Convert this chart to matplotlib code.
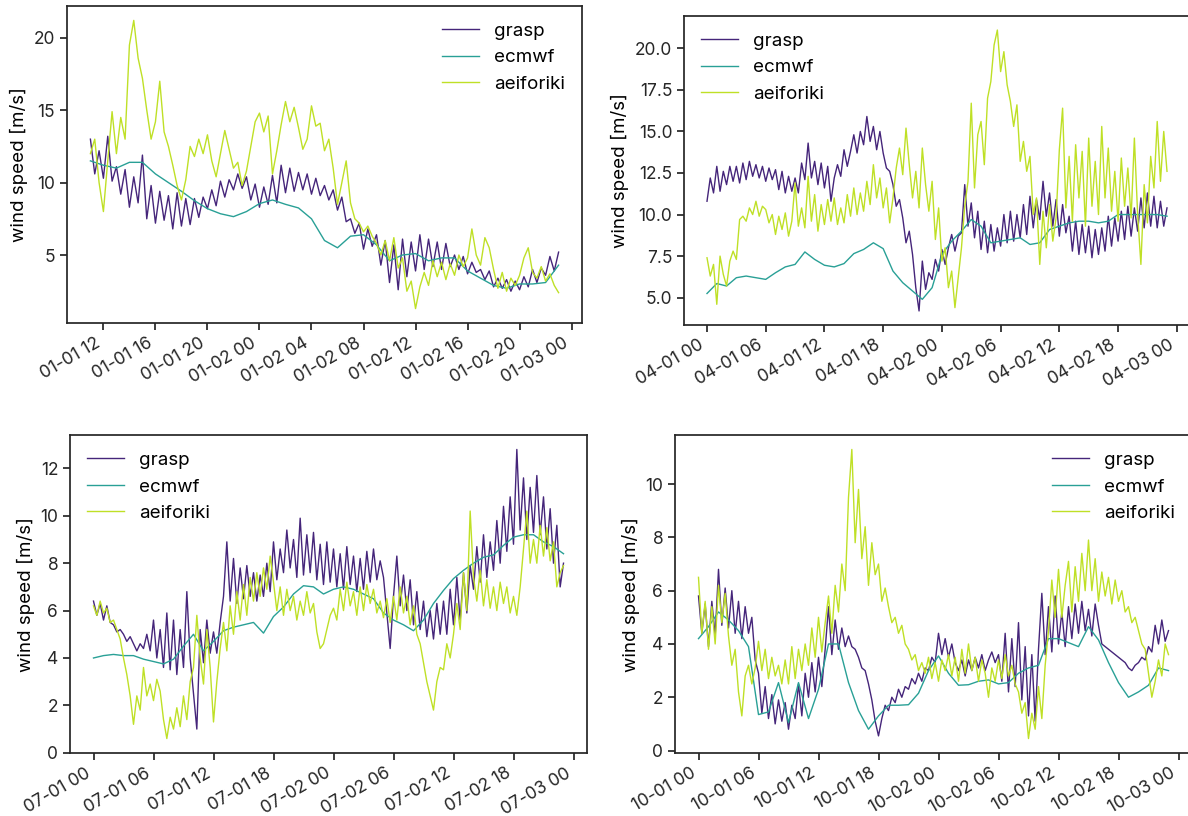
import numpy as np
import pandas as pd
import matplotlib
matplotlib.use('Agg')
import matplotlib.pyplot as plt
import matplotlib.dates as mdates
from matplotlib.ticker import MultipleLocator

plt.rcParams['font.family'] = ['Inter', 'DejaVu Sans']
plt.rcParams['axes.edgecolor'] = '#262626'
plt.rcParams['axes.linewidth'] = 1.25
plt.rcParams['xtick.color'] = '#262626'
plt.rcParams['ytick.color'] = '#262626'
plt.rcParams['xtick.major.width'] = 1.25
plt.rcParams['ytick.major.width'] = 1.25
plt.rcParams['xtick.major.size'] = 5
plt.rcParams['ytick.major.size'] = 5

C_GRASP = '#45257a'
C_ECMWF = '#29a096'
C_AEIF = '#bfe026'

# grasp / aeiforiki sampled every 20 min, ecmwf hourly

# -- January: 01-01 11:00 .. 01-02 23:00
jan_start = '2021-01-01 11:00'
jan_grasp = [13.0, 10.6, 12.2, 10.3, 13.2, 10.1,
             11.1, 9.2, 10.9, 8.3, 10.4, 8.6,
             11.9, 7.5, 9.8, 7.2, 9.4, 7.4,
             9.1, 6.8, 9.3, 7.0, 8.9, 7.1,
             8.9, 7.6, 9.0, 8.2, 9.5, 8.4,
             10.1, 9.0, 10.2, 9.5, 10.6, 9.6,
             10.4, 8.8, 9.9, 8.3, 9.7, 8.5,
             10.5, 8.6, 11.2, 9.3, 11.0, 9.4,
             10.7, 9.5, 10.6, 9.2, 10.3, 9.1,
             9.8, 8.8, 9.5, 8.1, 9.0, 7.3,
             7.5, 6.5, 7.2, 5.4, 6.8, 5.6,
             6.4, 4.3, 6.0, 3.1, 5.7, 2.6,
             6.1, 3.5, 5.9, 3.9, 6.4, 4.0,
             6.1, 4.2, 5.9, 4.0, 5.8, 4.2,
             5.0, 4.0, 4.9, 3.7, 4.5, 3.8,
             4.0, 3.3, 3.9, 2.8, 3.4, 2.7,
             3.3, 2.5, 3.2, 2.6, 3.5, 2.8,
             4.0, 3.1, 4.1, 3.6, 4.9, 3.9,
             5.2]
jan_aeif = [12.0, 13.0, 10.0, 8.0, 11.5, 14.9,
            12.0, 14.5, 13.0, 19.5, 21.2, 18.6,
            17.2, 15.0, 13.0, 14.2, 17.0, 13.5,
            12.5, 11.2, 9.8, 8.8, 10.2, 12.5,
            11.8, 13.0, 12.0, 13.3, 11.5, 10.4,
            12.0, 13.6, 12.3, 11.0, 11.4, 9.8,
            10.8, 12.5, 14.2, 14.8, 13.5, 14.6,
            10.6, 12.2, 14.0, 15.6, 14.2, 15.2,
            13.8, 12.3, 13.0, 15.3, 13.9, 14.1,
            12.2, 13.0, 11.0, 8.5, 10.0, 11.5,
            8.6, 7.5, 7.2, 6.6, 7.0, 6.3,
            5.8, 5.0, 6.0, 4.6, 6.2, 4.1,
            4.8, 2.5, 3.2, 1.3, 2.8, 3.8,
            2.9, 4.6, 3.5, 4.5, 3.3, 4.4,
            3.6, 5.0, 4.2, 4.8, 6.8, 5.0,
            4.3, 6.2, 5.5, 4.0, 2.7, 3.8,
            2.5, 3.4, 2.9, 3.6, 4.8, 5.5,
            3.8, 3.4, 4.2, 3.2, 3.7, 2.9,
            2.4]
jan_ecmwf = [11.5, 11.2, 11.0, 11.4, 11.4, 10.6, 10.0, 9.4, 8.75, 8.2,
             7.85, 7.65, 8.0, 8.55, 8.8, 8.5, 8.25, 7.5, 6.0, 5.5,
             6.3, 6.4, 5.7, 4.6, 5.0, 5.1, 4.6, 4.8, 4.8, 3.9,
             3.4, 2.9, 2.7, 3.0, 3.0, 3.1, 4.3]

# -- April: 04-01 00:00 .. 04-02 23:00
apr_start = '2021-04-01 00:00'
apr_grasp = [10.8, 12.2, 11.3, 12.9, 11.4, 12.6,
             11.8, 12.9, 12.0, 12.9, 11.9, 13.1,
             12.1, 13.2, 12.3, 13.0, 12.2, 12.9,
             12.0, 12.8, 12.1, 12.7, 11.5, 12.6,
             11.3, 12.3, 11.4, 12.2, 11.3, 13.1,
             12.1, 14.3, 12.2, 13.2, 11.8, 13.1,
             11.6, 12.9, 10.8, 12.2, 13.0, 12.3,
             13.9, 12.9, 13.8, 14.8, 13.7, 15.0,
             14.2, 15.9, 14.4, 15.3, 13.9, 15.0,
             13.7, 12.8, 12.6, 11.8, 10.5, 10.9,
             9.8, 8.3, 9.0, 7.6, 5.6, 4.2,
             7.2, 5.5, 6.5, 6.1, 7.3, 6.6,
             7.9, 7.0, 8.0, 8.8, 7.8, 8.7,
             8.9, 11.8, 9.3, 10.7, 8.6, 10.2,
             7.9, 9.6, 7.7, 9.4, 7.8, 9.2,
             8.1, 10.0, 8.3, 10.2, 8.4, 10.0,
             8.6, 10.6, 8.8, 11.1, 9.2, 10.9,
             9.7, 12.0, 9.9, 11.3, 9.3, 10.9,
             8.7, 10.6, 8.9, 9.9, 7.8, 9.6,
             7.6, 9.4, 7.7, 9.3, 7.4, 9.1,
             7.6, 9.2, 7.8, 9.9, 8.1, 9.8,
             8.4, 10.2, 8.5, 10.5, 8.7, 10.4,
             9.0, 11.0, 9.2, 11.3, 9.3, 11.1,
             9.2, 10.8, 9.3, 10.4]
apr_aeif = [7.4, 6.3, 7.0, 4.6, 7.5, 6.4,
            5.7, 7.2, 7.8, 7.3, 9.7, 9.9,
            9.6, 10.4, 10.0, 10.8, 9.9, 10.5,
            10.3, 9.5, 10.0, 8.8, 9.9, 9.1,
            10.1, 8.7, 9.6, 11.9, 9.3, 10.4,
            9.2, 12.3, 9.6, 11.2, 9.0, 10.6,
            9.4, 10.9, 9.6, 11.0, 9.4, 10.4,
            9.5, 11.2, 9.9, 11.6, 10.0, 11.3,
            10.2, 12.0, 10.6, 13.0, 11.0, 12.2,
            10.4, 11.6, 9.5, 11.0, 12.8, 14.0,
            12.4, 15.2, 13.0, 11.0, 12.6, 10.4,
            14.0, 11.8, 10.2, 12.0, 8.5, 10.4,
            7.2, 8.0, 5.6, 6.6, 4.4, 6.2,
            8.0, 10.5, 12.0, 16.7, 11.6, 14.8,
            15.6, 13.0, 17.0, 18.0, 20.2, 21.1,
            18.6, 19.8, 17.8, 16.8, 15.3, 16.6,
            13.2, 14.4, 12.6, 13.5, 10.0, 11.0,
            7.0, 10.2, 8.0, 10.6, 8.4, 9.8,
            13.9, 16.4, 10.4, 13.5, 9.6, 14.2,
            11.0, 13.8, 9.3, 14.6, 10.5, 13.2,
            10.0, 15.3, 11.0, 14.0, 10.2, 12.6,
            9.6, 13.4, 10.5, 12.8, 9.8, 14.6,
            10.0, 7.0, 11.8, 9.5, 13.5, 11.6,
            15.6, 12.0, 15.0, 12.6]
apr_ecmwf = [5.25, 5.85, 5.7, 6.2, 6.3, 6.2, 6.1, 6.5, 6.85, 7.0,
             7.75, 7.3, 6.95, 6.85, 7.05, 7.65, 7.9, 8.3, 7.95, 6.6,
             5.9, 5.4, 4.9, 5.6, 7.6, 8.4, 9.0, 9.7, 9.3, 8.3,
             8.4, 8.5, 8.6, 8.2, 8.3, 9.1, 9.3, 9.5, 9.6, 9.6,
             9.5, 9.6, 10.0, 10.0, 10.0, 10.0, 10.0, 9.9]

# -- July: 07-01 00:00 .. 07-02 23:00
jul_start = '2021-07-01 00:00'
jul_grasp = [6.4, 5.8, 6.3, 5.6, 6.2, 5.5,
             5.4, 5.1, 5.2, 5.0, 4.7, 4.9,
             4.6, 4.3, 4.6, 4.4, 5.0, 4.3,
             5.6, 4.0, 5.2, 3.6, 5.9, 3.5,
             5.6, 3.3, 5.2, 3.6, 6.8, 4.0,
             2.5, 1.0, 5.2, 3.8, 5.6, 4.2,
             5.1, 4.2, 5.5, 6.6, 8.9, 6.4,
             8.2, 6.3, 7.8, 6.5, 7.9, 6.6,
             7.6, 6.4, 7.5, 6.6, 8.0, 6.8,
             8.9, 7.3, 8.6, 7.6, 9.4, 7.8,
             9.0, 7.4, 9.9, 7.5, 9.2, 7.6,
             9.3, 7.3, 8.8, 7.1, 8.9, 7.2,
             8.6, 7.0, 8.4, 6.9, 8.7, 7.1,
             8.3, 6.8, 8.2, 6.9, 8.5, 7.2,
             8.6, 7.3, 8.1, 7.4, 5.9, 4.4,
             6.6, 8.3, 6.2, 7.5, 6.0, 7.3,
             5.4, 6.8, 5.2, 6.4, 4.9, 6.0,
             4.8, 6.3, 5.0, 6.4, 5.0, 6.9,
             5.4, 7.4, 5.6, 7.6, 5.9, 7.9,
             6.9, 8.7, 7.2, 9.2, 7.4, 8.9,
             7.7, 9.8, 8.0, 10.4, 8.5, 10.8,
             8.8, 12.8, 9.4, 11.6, 9.0, 11.2,
             9.3, 11.7, 9.2, 10.8, 8.6, 10.3,
             8.0, 9.6, 7.0, 8.0]
jul_aeif = [6.2, 5.8, 6.4, 5.9, 6.1, 5.5,
            5.6, 5.2, 4.8, 4.0, 3.3, 2.4,
            1.2, 2.4, 1.8, 3.6, 2.4, 2.9,
            2.2, 3.1, 2.6, 1.4, 0.6, 1.5,
            1.0, 1.9, 1.1, 2.4, 1.4, 3.0,
            3.6, 5.8, 4.0, 2.9, 5.2, 3.6,
            1.3, 3.0, 4.4, 5.5, 4.3, 6.2,
            5.0, 6.8, 5.6, 7.1, 5.8, 7.4,
            6.4, 7.6, 6.6, 7.8, 6.9, 8.3,
            7.2, 6.0, 7.0, 5.8, 6.9, 6.0,
            6.6, 5.6, 6.4, 5.8, 6.8, 5.9,
            6.3, 5.1, 4.4, 4.6, 5.2, 5.8,
            6.1, 5.6, 6.9, 6.0, 7.2, 6.2,
            6.8, 5.8, 7.0, 6.0, 7.1, 6.3,
            6.9, 5.9, 6.4, 5.7, 6.5, 5.5,
            6.6, 5.6, 7.0, 5.9, 6.6, 5.4,
            6.2, 5.0, 4.6, 3.8, 3.0, 2.4,
            1.8, 3.0, 3.6, 3.5, 4.6, 4.0,
            5.0, 6.3, 5.2, 7.6, 6.0, 10.2,
            7.4, 6.4, 7.7, 6.2, 7.3, 6.1,
            7.0, 6.0, 7.2, 6.3, 7.0, 5.9,
            6.6, 5.8, 7.0, 8.6, 10.2, 8.0,
            9.0, 8.0, 9.6, 8.3, 9.5, 8.1,
            8.9, 7.0, 7.6, 7.9]
jul_ecmwf = [4.0, 4.1, 4.15, 4.1, 4.1, 3.95, 3.85, 3.75, 3.95, 4.5,
             5.0, 4.3, 4.7, 5.15, 5.3, 5.4, 5.5, 5.05, 5.75, 6.15,
             6.7, 7.05, 7.0, 6.7, 6.9, 7.0, 6.9, 6.7, 6.5, 5.9,
             5.6, 5.4, 5.15, 5.6, 6.3, 6.85, 7.35, 7.7, 8.0, 8.25,
             8.35, 8.75, 9.1, 9.2, 9.2, 8.9, 8.7, 8.4]

# -- October: 10-01 00:00 .. 10-02 23:00
oct_start = '2021-10-01 00:00'
oct_grasp = [5.8, 4.4, 5.5, 3.9, 5.6, 4.3,
             6.8, 4.7, 6.1, 4.6, 6.0, 4.4,
             5.6, 4.2, 5.4, 4.4, 5.0, 3.4,
             2.9, 1.4, 2.4, 1.2, 2.1, 1.0,
             1.9, 1.1, 1.8, 0.8, 1.7, 1.2,
             2.5, 1.3, 2.9, 2.0, 3.3, 2.2,
             3.5, 2.4, 3.8, 5.4, 3.6, 4.9,
             3.8, 4.6, 3.9, 4.3, 3.9, 3.8,
             3.5, 3.1, 3.0, 2.5, 1.9, 1.1,
             0.55, 1.2, 1.7, 1.5, 2.0, 1.8,
             2.3, 2.0, 2.4, 2.3, 2.7, 2.5,
             2.9, 2.6, 3.1, 3.0, 3.5, 3.3,
             4.4, 3.6, 4.2, 3.5, 4.0, 3.3,
             3.0, 3.4, 2.8, 3.4, 3.0, 3.5,
             3.1, 3.6, 3.0, 3.4, 3.7, 3.3,
             3.6, 2.6, 4.4, 2.2, 4.2, 2.4,
             4.8, 1.9, 3.9, 1.3, 3.6, 1.1,
             3.8, 5.9, 3.6, 5.4, 3.7, 5.8,
             4.0, 5.2, 3.9, 5.4, 4.2, 5.5,
             4.4, 5.6, 4.5, 5.3, 4.3, 5.5,
             4.7, 4.0, 3.9, 3.8, 3.7, 3.6,
             3.5, 3.4, 3.3, 3.1, 3.0, 3.2,
             3.3, 3.5, 3.4, 3.9, 3.7, 4.7,
             4.0, 4.9, 4.1, 4.5]
oct_aeif = [6.5, 4.4, 5.6, 3.8, 5.4, 4.0,
            6.2, 4.8, 5.9, 4.3, 3.2, 3.8,
            2.2, 1.3, 2.8, 3.2, 2.5, 3.1,
            4.1, 3.0, 3.8, 2.7, 3.5, 2.8,
            3.2, 2.5, 3.4, 2.5, 3.9, 2.7,
            3.8, 3.0, 4.0, 3.2, 4.6, 3.5,
            5.0, 3.7, 4.8, 5.8, 4.4, 6.2,
            5.2, 7.0, 6.0, 9.5, 11.3, 7.8,
            9.8, 7.2, 8.4, 6.2, 7.8, 6.6,
            7.0, 5.6, 6.1, 5.4, 4.8, 5.0,
            4.4, 4.7, 4.0, 3.8, 3.4, 3.6,
            3.0, 3.3, 2.9, 3.5, 2.7, 3.3,
            2.6, 3.4, 3.0, 3.6, 2.8, 3.5,
            2.6, 3.8, 2.9, 4.0, 3.0, 3.5,
            2.6, 3.4, 2.9, 2.0, 3.1, 2.6,
            3.4, 2.7, 3.6, 2.8, 3.2, 2.5,
            2.2, 1.4, 1.8, 0.45, 1.4, 0.8,
            2.4, 1.2, 3.2, 4.5, 6.4, 5.0,
            6.8, 5.0, 6.2, 7.1, 5.2, 6.9,
            5.6, 7.4, 6.0, 7.9, 6.0, 7.2,
            5.6, 6.7, 5.8, 6.5, 5.5, 6.4,
            5.6, 6.0, 5.2, 5.4, 4.8, 5.0,
            4.5, 4.0, 3.8, 2.9, 2.0, 2.6,
            3.4, 2.8, 4.0, 3.6]
oct_ecmwf = [4.2, 4.65, 5.2, 4.9, 4.5, 3.9, 1.35, 1.45, 2.55, 1.05,
             2.55, 1.2, 2.3, 4.0, 4.0, 2.55, 1.5, 0.8, 1.3, 1.7,
             1.7, 1.72, 2.15, 3.0, 3.55, 2.9, 2.45, 2.47, 2.6, 2.65,
             2.5, 2.55, 2.9, 3.1, 3.2, 4.2, 4.2, 4.05, 3.9, 4.65,
             4.15, 3.3, 2.55, 2.0, 2.2, 2.45, 3.1, 3.0]


def draw(ax, start, grasp, ecmwf, aeif, step_h, loc, ystep=None):
    t_grasp = pd.date_range(start, periods=len(grasp), freq='20min')
    t_aeif = pd.date_range(start, periods=len(aeif), freq='20min')
    t_ecmwf = pd.date_range(start, periods=len(ecmwf), freq='60min')

    ax.plot(t_grasp, grasp, color=C_GRASP, lw=1.0, label='grasp')
    ax.plot(t_ecmwf, ecmwf, color=C_ECMWF, lw=1.0, label='ecmwf')
    ax.plot(t_aeif, aeif, color=C_AEIF, lw=1.0, label='aeiforiki')

    ax.xaxis.set_major_locator(mdates.HourLocator(byhour=range(0, 24, step_h)))
    ax.xaxis.set_major_formatter(mdates.DateFormatter('%m-%d %H'))
    if ystep:
        ax.yaxis.set_major_locator(MultipleLocator(ystep))
    ax.tick_params(axis='both', labelsize=12.5)
    for lab in ax.get_xticklabels():
        lab.set_rotation(30)
        lab.set_ha('right')
    ax.set_ylabel('wind speed [m/s]', fontsize=13.5)
    ax.legend(loc=loc, frameon=False, fontsize=13.5)


fig = plt.figure(figsize=(11.88, 8.16), dpi=100)

W, H = 1188.0, 816.0
boxes = [(67, 6, 582, 323), (684, 16, 1190, 325),
         (70, 435, 587, 753), (675, 435, 1192, 753)]
axes = []
for (x0, y0, x1, y1) in boxes:
    axes.append(fig.add_axes([x0 / W, 1 - y1 / H, (x1 - x0) / W, (y1 - y0) / H]))

draw(axes[0], jan_start, jan_grasp, jan_ecmwf, jan_aeif, 4, 'upper right', 5)
draw(axes[1], apr_start, apr_grasp, apr_ecmwf, apr_aeif, 6, 'upper left')
draw(axes[2], jul_start, jul_grasp, jul_ecmwf, jul_aeif, 6, 'upper left')
draw(axes[3], oct_start, oct_grasp, oct_ecmwf, oct_aeif, 6, 'upper right', 2)

fig.savefig('out.png', dpi=100)
